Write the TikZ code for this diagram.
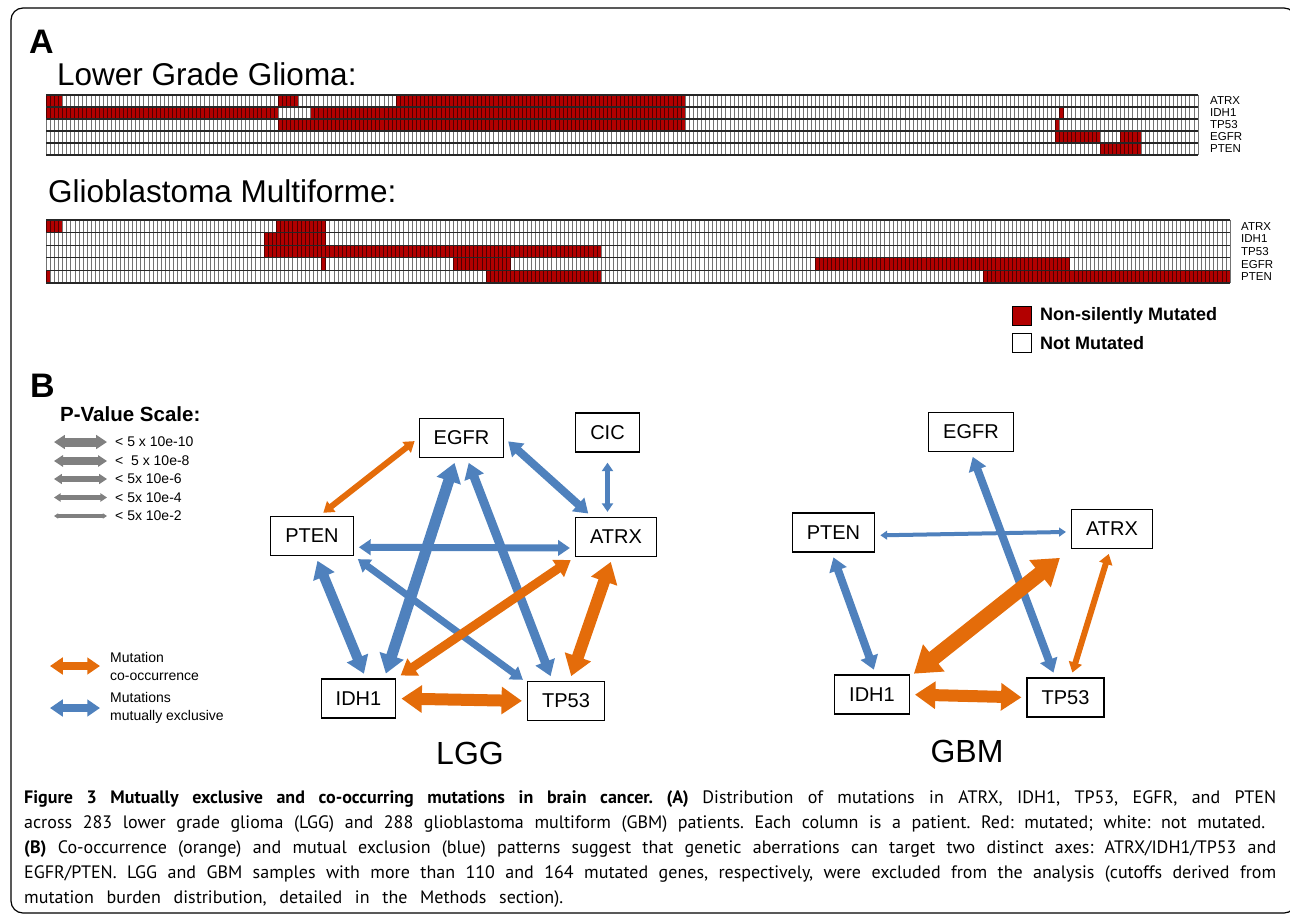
\documentclass[tikz,border=0pt]{standalone}
\usepackage{fontspec}
\setmainfont{Liberation Sans}
\newfontfamily\capfont{PT Sans}
\usetikzlibrary{positioning,arrows.meta}

\definecolor{mutred}{RGB}{178,0,0}
\definecolor{coocc}{RGB}{228,108,10}
\definecolor{mutex}{RGB}{79,129,189}
\definecolor{pgray}{RGB}{128,128,128}

\begin{document}
\begin{tikzpicture}[x=1pt,y=-1pt,node distance =1 cm and 2cm ,on grid ,
    gene/.style ={ rectangle , draw , line width=1.3pt, minimum height =39pt,
      inner xsep=14.5pt, font=\fontsize{20}{24}\selectfont},
    link/.style ={line width=#1, >={Triangle[length=0pt 1.7,width=0pt 2.2]}, <->,
      shorten <=5pt, shorten >=5pt},
    co/.style ={link=#1, draw=coocc},
    ex/.style ={link=#1, draw=mutex},
    pval/.style ={line width=#1, pgray, >={Triangle[length=0pt 1.2,width=0pt 1.5]}, <->,
      shorten >=8pt},
    glab/.style ={anchor=west, inner sep=0pt, font=\fontsize{11.5}{12}\selectfont},
    plab/.style ={anchor=west, inner sep=0pt, font=\fontsize{14}{16}\selectfont},
    legtext/.style ={anchor=west, align=left, inner sep=0pt, font=\fontsize{14}{18}\selectfont},
    keybox/.style ={draw, line width=0.8pt, minimum size=19pt, inner sep=0pt},
    keytext/.style ={anchor=west, inner sep=0pt, font=\fontsize{18}{20}\selectfont\bfseries},
    cell/.style ={line width=0.5pt, black, draw opacity=0.55},
    rowsep/.style ={line width=1.1pt, black!85},
    title/.style ={anchor=base west, inner sep=0pt, font=\fontsize{31.5}{36}\selectfont},
    panel/.style ={anchor=base west, inner sep=0pt, font=\fontsize{34}{38}\selectfont\bfseries},
    capline/.style ={anchor=base west, inner sep=0pt, font=\capfont\fontsize{18}{20}\selectfont\frenchspacing}
    ]
    \useasboundingbox (0,0) rectangle (1290,916);
    \draw[line width=1.2pt, rounded corners=12pt] (11,8) rectangle (1296,913);

    % panel A
    \node[panel] (pA) at (29,53) {A};
    \node[title] (lggT) at (57,85) {Lower Grade Glioma:};
    \foreach \rw/\ca/\cb in {0/0/3,0/57/61,0/86/156,1/0/56,1/65/156,1/249/249,
        2/57/156,2/248/248,3/248/258,3/264/268,4/259/268}
      \fill[mutred] ({46+\ca*4.07},{95+\rw*12}) rectangle ({46+(\cb+1)*4.07},{107+\rw*12});
    \foreach \c in {0,...,283}
      \draw[cell] ({46+\c*4.07},95) -- ++(0,60);
    \foreach \rw in {0,...,5}
      \draw[rowsep] (46,{95+\rw*12}) -- (1198,{95+\rw*12});
    \foreach \g [count=\i from 0] in {ATRX,IDH1,TP53,EGFR,PTEN}
      \node[glab] (l\g) at (1210,{101+\i*12}) {\g};

    \node[title] (gbmT) at (48,202) {Glioblastoma Multiforme:};
    \foreach \rw/\ca/\cb in {0/0/3,0/56/67,1/53/67,2/53/134,3/67/67,3/99/112,
        3/187/248,4/0/0,4/107/134,4/228/287}
      \fill[mutred] ({46+\ca*4.111},{220+\rw*12.6}) rectangle ({46+(\cb+1)*4.111},{232.6+\rw*12.6});
    \foreach \c in {0,...,288}
      \draw[cell] ({46+\c*4.111},220) -- ++(0,63);
    \foreach \rw in {0,...,5}
      \draw[rowsep] (46,{220+\rw*12.6}) -- (1230,{220+\rw*12.6});
    \foreach \g [count=\i from 0] in {ATRX,IDH1,TP53,EGFR,PTEN}
      \node[glab] (g\g) at (1241,{226.3+\i*12.6}) {\g};

    \node[keybox, fill=mutred] (redkey) at (1021.5,315.5) {};
    \node[keybox, fill=white] (whitekey) [below =27pt of redkey] {};
    \node[keytext] (redtxt) at (1040,316) {Non-silently Mutated};
    \node[keytext] (whitetxt) at (1040,343) {Not Mutated};

    % panel B
    \node[panel] (pB) at (30,397) {B};
    \node[anchor=base west, inner sep=0pt, font=\fontsize{20.5}{24}\selectfont\bfseries] (pscale) at (60,421) {P-Value Scale:};
    \foreach \i/\w/\y/\t in {1/9pt/442/{< 5 x 10e-10},2/7.5pt/461/{<~ 5 x 10e-8},
        3/6.5pt/479/{< 5x 10e-6},4/5.5pt/497.5/{< 5x 10e-4},5/3.5pt/516/{< 5x 10e-2}} {
      \coordinate (s\i) at (54,\y);
      \node[plab] (p\i) at (115,\y) {\t};
      \draw[pval=\w] (s\i) -- (p\i);
    }

    \coordinate (cokey) at (50,666);
    \node[legtext] (cotext) at (110,666) {Mutation\\co-occurrence};
    \draw[co=7.5pt, shorten <=0pt, shorten >=10pt] (cokey) -- (cotext);
    \coordinate (exkey) at (50,708);
    \node[legtext] (extext) at (110,708) {Mutations\\mutually exclusive};
    \draw[ex=7.5pt, shorten <=0pt, shorten >=10pt] (exkey) -- (extext);

    % LGG network
    \node[gene] (lEGFR) at (461.5,438) {EGFR};
    \node[gene] (lCIC) [above right =5.5pt and 146pt of lEGFR] {CIC};
    \node[gene] (lPTEN) [below left =98pt and 149.5pt of lEGFR] {PTEN};
    \node[gene] (lATRX) [below right =99pt and 154.5pt of lEGFR] {ATRX};
    \node[gene] (lIDH1) [below left =260.5pt and 103pt of lEGFR] {IDH1};
    \node[gene] (lTP53) [below right =263pt and 104.5pt of lEGFR] {TP53};
    \node[font=\fontsize{32}{36}\selectfont] (lgg) at (470,753.5) {LGG};

    \draw[ex=8pt] (lEGFR.east) -- (lATRX.140);
    \draw[ex=5pt, shorten <=10pt] (lCIC.south) -- (lCIC.south |- lATRX.north);
    \draw[ex=7pt] (lPTEN.-15) -- (lATRX.195);
    \draw[ex=11pt] (lEGFR.-105) -- (lIDH1.38);
    \draw[ex=9pt] (lEGFR.-75) -- (lTP53.124);
    \draw[ex=10pt] (lPTEN.-80) -- (lIDH1.70);
    \draw[ex=7pt] (lPTEN.south east) -- (lTP53.155);
    \draw[co=6pt] (lEGFR.west) -- (lPTEN.70);
    \draw[co=9pt] (lATRX.south west) -- (lIDH1.north east);
    \draw[co=12pt] (lATRX.-100) -- (lTP53.80);
    \draw[co=12pt] (lIDH1.east) -- (lTP53.west);

    % GBM network
    \node[gene] (gEGFR) at (971,432) {EGFR};
    \node[gene] (gPTEN) [below left =100.5pt and 137.5pt of gEGFR] {PTEN};
    \node[gene] (gATRX) [below right =97pt and 141pt of gEGFR] {ATRX};
    \node[gene] (gIDH1) [below left =262.5pt and 99pt of gEGFR] {IDH1};
    \node[gene] (gTP53) [below right =265.5pt and 94.5pt of gEGFR] {TP53};
    \node[font=\fontsize{32}{36}\selectfont] (gbm) at (967,751.5) {GBM};

    \draw[ex=8pt] (gEGFR.south) -- (gTP53.117);
    \draw[ex=4pt] (gPTEN.-4) -- (gATRX.184);
    \draw[ex=8pt] (gPTEN.-95) -- (gIDH1.80);
    \draw[co=15pt, shorten <=14pt] (gATRX.south west) -- (gIDH1.25);
    \draw[co=6pt] (gATRX.-95) -- (gTP53.75);
    \draw[co=12pt] (gIDH1.east) -- (gTP53.west);

    % caption
    \node[capline] (cap1) at (24,803) {\makebox[1252pt][s]{\bfseries Figure 3 Mutually exclusive and co-occurring mutations in brain cancer. (A) \mdseries Distribution of mutations in ATRX, IDH1, TP53, EGFR, and PTEN}};
    \node[capline] (cap2) at (24,828) {\makebox[1241pt][s]{across 283 lower grade glioma (LGG) and 288 glioblastoma multiform (GBM) patients. Each column is a patient. Red: mutated; white: not mutated.}};
    \node[capline] (cap3) at (24,853) {\makebox[1252pt][s]{\textbf{(B)} Co-occurrence (orange) and mutual exclusion (blue) patterns suggest that genetic aberrations can target two distinct axes: ATRX/IDH1/TP53 and}};
    \node[capline] (cap4) at (24,878) {\makebox[1252pt][s]{EGFR/PTEN. LGG and GBM samples with more than 110 and 164 mutated genes, respectively, were excluded from the analysis (cutoffs derived from}};
    \node[capline] (cap5) at (24,903) {\makebox[539pt][s]{mutation burden distribution, detailed in the Methods section).}};
\end{tikzpicture}
\end{document}
